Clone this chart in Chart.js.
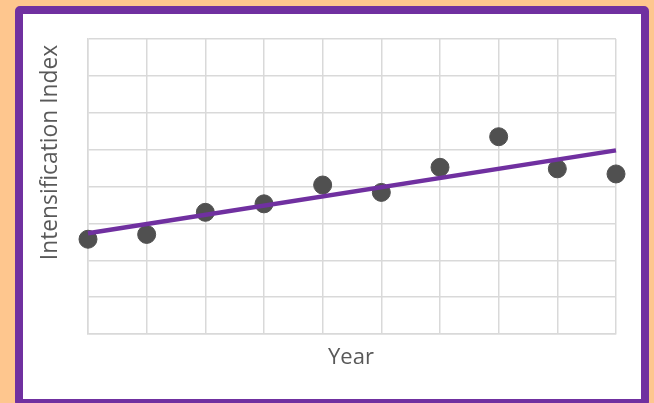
<!DOCTYPE html>
<html>
<head>
<meta charset="utf-8">
<script src="https://cdn.jsdelivr.net/npm/chart.js@4"></script>
<style>
  html, body { margin: 0; padding: 0; background: #FEC68E; width: 654px; height: 403px; overflow: hidden; }
  #frame {
    position: absolute; left: 15px; top: 6px; width: 618px; height: 385px;
    border: 8px solid #7030A0; border-radius: 5px; background: #ffffff;
  }
  #wrap { position: absolute; left: 0; top: 0; width: 654px; height: 403px; }
</style>
</head>
<body>
<div id="frame"></div>
<div id="wrap"><canvas id="c" width="654" height="403"></canvas></div>
<script>
// Yearly observations of the intensification index
const years = [1, 2, 3, 4, 5, 6, 7, 8, 9, 10];
const intensification = [2.57, 2.70, 3.30, 3.53, 4.04, 3.84, 4.52, 5.35, 4.48, 4.34];
// Linear trend line end values (first and last year)
const trendYears = [1, 10];
const trendValues = [2.73, 4.98];

const xTitle = 'Year';
const yTitle = 'Intensification Index';

// Axis titles placed by hand around the plot
const axisTitles = {
  id: 'axisTitles',
  afterDraw(chart) {
    const ctx = chart.ctx;
    ctx.save();
    ctx.fillStyle = '#595959';
    ctx.textAlign = 'center';
    ctx.textBaseline = 'alphabetic';
    ctx.font = '22px "Open Sans"';
    ctx.fillText(xTitle, 351, 364);
    ctx.font = '22.8px "Open Sans"';
    ctx.translate(57, 152.5);
    ctx.rotate(-Math.PI / 2);
    ctx.fillText(yTitle, 0, 0);
    ctx.restore();
  }
};

new Chart(document.getElementById('c'), {
  type: 'scatter',
  data: {
    datasets: [
      {
        type: 'line',
        data: trendYears.map((x, i) => ({ x, y: trendValues[i] })),
        borderColor: '#7030A0',
        borderWidth: 4.5,
        pointRadius: 0,
        fill: false,
        clip: false,
        order: 0
      },
      {
        data: years.map((x, i) => ({ x, y: intensification[i] })),
        backgroundColor: '#505050',
        borderColor: '#505050',
        pointRadius: 9,
        pointHoverRadius: 9,
        clip: false,
        order: 1
      }
    ]
  },
  options: {
    responsive: false,
    animation: false,
    events: [],
    layout: { padding: { left: 88, top: 39, right: 38, bottom: 69 } },
    plugins: { legend: { display: false }, tooltip: { enabled: false } },
    scales: {
      x: {
        type: 'linear', min: 1, max: 10,
        ticks: { display: false, stepSize: 1 },
        grid: { color: '#D9D9D9', lineWidth: 1.5, drawTicks: false },
        border: { color: '#D9D9D9', width: 1.5 }
      },
      y: {
        min: 0, max: 8,
        ticks: { display: false, stepSize: 1 },
        grid: { color: '#D9D9D9', lineWidth: 1.5, drawTicks: false },
        border: { color: '#D9D9D9', width: 1.5 }
      }
    }
  },
  plugins: [axisTitles]
});
</script>
</body>
</html>
